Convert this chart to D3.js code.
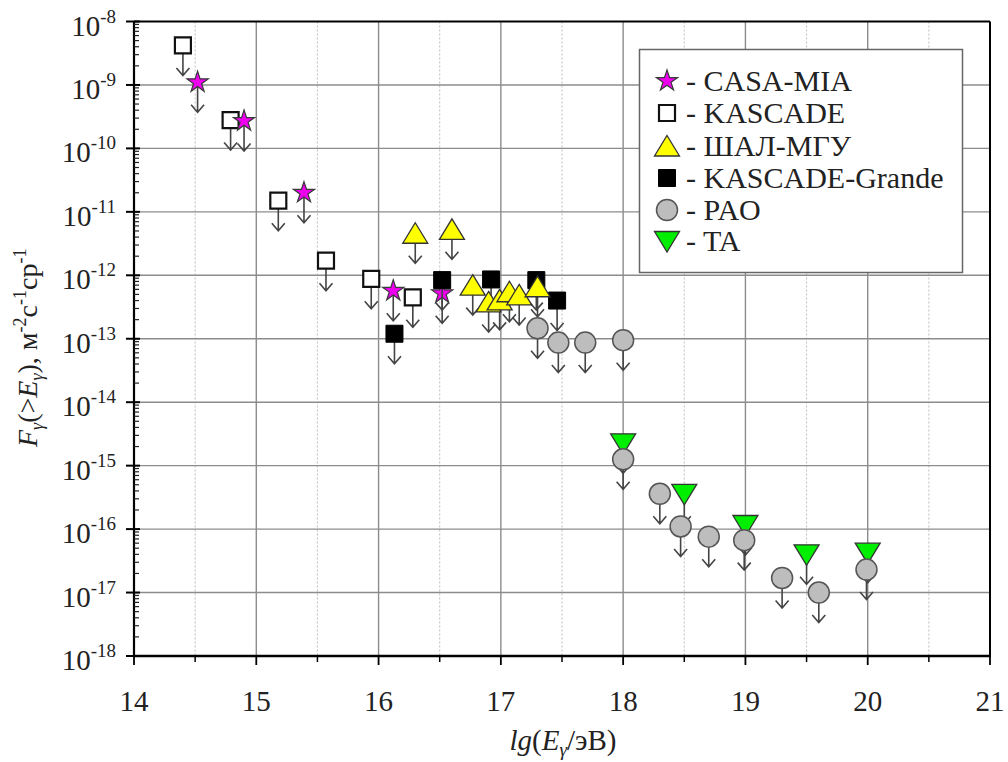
<!DOCTYPE html>
<html>
<head>
<meta charset="utf-8">
<script src="https://cdn.jsdelivr.net/npm/d3@7"></script>
<style>
  html, body { margin: 0; padding: 0; background: #fff; }
  svg { display: block; }
  text { font-family: "Liberation Serif", "DejaVu Serif", serif; }
</style>
</head>
<body>
<svg id="chart" width="1008" height="762"></svg>
<script>
// Upper limits on the integral gamma-ray flux, per experiment
const casaMiaX = [14.52, 14.90, 15.39, 16.12, 16.52];
const casaMiaY = [1.1e-9, 2.7e-10, 2.0e-11, 5.7e-13, 5.2e-13];

const kascadeX = [14.40, 14.79, 15.18, 15.57, 15.94, 16.28];
const kascadeY = [4.2e-9, 2.8e-10, 1.5e-11, 1.7e-12, 8.8e-13, 4.5e-13];

const shalX = [16.30, 16.60, 16.77, 16.90, 16.99, 17.07, 17.15, 17.30];
const shalY = [4.6e-12, 5.3e-12, 7.0e-13, 3.8e-13, 4.1e-13, 5.5e-13, 4.9e-13, 6.6e-13];

const grandeX = [16.13, 16.52, 16.92, 17.29, 17.46];
const grandeY = [1.2e-13, 8.4e-13, 8.6e-13, 8.4e-13, 4.0e-13];

const taX = [18.0, 18.5, 19.0, 19.5, 20.0];
const taY = [2.25e-15, 3.6e-16, 1.16e-16, 4.0e-17, 4.25e-17];

const paoX = [17.30, 17.47, 17.69, 18.0, 18.0, 18.30, 18.47, 18.70, 18.99, 19.30, 19.60, 19.99];
const paoY = [1.46e-13, 8.7e-14, 8.7e-14, 9.5e-14, 1.26e-15, 3.6e-16, 1.1e-16, 7.6e-17, 6.7e-17, 1.7e-17, 1.0e-17, 2.3e-17];

const xTicks = [14, 15, 16, 17, 18, 19, 20, 21];
const xHalfTicks = [14.5, 15.5, 16.5, 17.5, 18.5, 19.5, 20.5];
const yExponents = [-8, -9, -10, -11, -12, -13, -14, -15, -16, -17, -18];

const legendNames = ["CASA-MIA", "KASCADE", "ШАЛ-МГУ", "KASCADE-Grande", "PAO", "TA"];

const FONT = "'Liberation Serif', 'DejaVu Serif', serif";
const svg = d3.select("#chart").attr("font-family", FONT);
const x = d3.scaleLinear().domain([14, 21]).range([134, 990]);
const y = d3.scaleLog().domain([1e-18, 1e-8]).range([656, 21.5]);
const [x0, x1] = x.range();
const [yb, yt] = y.range();

// marker shapes, centred on their bounding box
const shapes = {
  star: d3.symbol(d3.symbolStar, 140)(),
  openSquare: "M-8,-8H8V8H-8Z",
  square: "M-8.5,-8.5H8.5V8.5H-8.5Z",
  triUp: "M0,-10.5L12.5,10L-12.5,10Z",
  triDown: "M-12.5,-9.5L12.5,-9.5L0,11Z",
  circle: d3.symbol(d3.symbolCircle, Math.PI * 10.5 * 10.5)()
};
const styles = {
  star: { fill: "#ee00ee", stroke: "#3a3a3a", sw: 1.2 },
  openSquare: { fill: "#ffffff", stroke: "#111", sw: 2.2 },
  square: { fill: "#000000", stroke: "#000", sw: 1 },
  triUp: { fill: "#ffff00", stroke: "#333", sw: 1.3 },
  triDown: { fill: "#00ee00", stroke: "#333", sw: 1.3 },
  circle: { fill: "#bdbdbd", stroke: "#555", sw: 1.5 }
};

// grid
const grid = svg.append("g");
grid.selectAll("line.vh").data(xHalfTicks).join("line")
  .attr("x1", d => x(d)).attr("x2", d => x(d)).attr("y1", yt).attr("y2", yb)
  .attr("stroke", "#bdbdbd").attr("stroke-width", 1).attr("stroke-dasharray", "2,2");
grid.selectAll("line.vm").data(xTicks.slice(1, -1)).join("line")
  .attr("x1", d => x(d)).attr("x2", d => x(d)).attr("y1", yt).attr("y2", yb)
  .attr("stroke", "#8c8c8c").attr("stroke-width", 1.4);
grid.selectAll("line.hm").data(yExponents.slice(1, -1)).join("line")
  .attr("x1", x0).attr("x2", x1).attr("y1", d => y(Math.pow(10, d))).attr("y2", d => y(Math.pow(10, d)))
  .attr("stroke", "#8c8c8c").attr("stroke-width", 1.4);

// frame
svg.append("line").attr("x1", x0).attr("x2", x1).attr("y1", yt).attr("y2", yt).attr("stroke", "#000").attr("stroke-width", 2);
svg.append("line").attr("x1", x1).attr("x2", x1).attr("y1", yt).attr("y2", yb).attr("stroke", "#000").attr("stroke-width", 2);

// left axis with log minor ticks
const yAxis = svg.append("g");
yAxis.append("line").attr("x1", x0).attr("x2", x0).attr("y1", yt).attr("y2", yb).attr("stroke", "#000").attr("stroke-width", 2.2);
const minorY = [];
yExponents.slice(1).forEach(e => { for (let k = 2; k <= 9; k++) minorY.push(k * Math.pow(10, e)); });
yAxis.selectAll("line.mn").data(minorY).join("line")
  .attr("x1", x0).attr("x2", x0 + 5).attr("y1", d => y(d)).attr("y2", d => y(d))
  .attr("stroke", "#222").attr("stroke-width", 1.2);
yAxis.selectAll("line.mj").data(yExponents).join("line")
  .attr("x1", x0 - 8).attr("x2", x0 + 6).attr("y1", d => y(Math.pow(10, d))).attr("y2", d => y(Math.pow(10, d)))
  .attr("stroke", "#000").attr("stroke-width", 2);
const yl = yAxis.selectAll("text").data(yExponents).join("text")
  .attr("x", 116).attr("y", d => y(Math.pow(10, d)) + 14)
  .attr("font-family", FONT)
  .attr("text-anchor", "end").attr("font-size", 29).attr("fill", "#222");
yl.append("tspan").text("10");
yl.append("tspan").attr("font-size", 19).attr("dy", -13).text(d => String(d));

// bottom axis
const xAxis = svg.append("g");
xAxis.append("line").attr("x1", x0 - 1).attr("x2", x1 + 1).attr("y1", yb).attr("y2", yb).attr("stroke", "#000").attr("stroke-width", 2.5);
xAxis.selectAll("line.tj").data(xTicks).join("line")
  .attr("x1", d => x(d)).attr("x2", d => x(d)).attr("y1", yb).attr("y2", yb + 9)
  .attr("stroke", "#000").attr("stroke-width", 1.8);
xAxis.selectAll("line.tn").data(xHalfTicks).join("line")
  .attr("x1", d => x(d)).attr("x2", d => x(d)).attr("y1", yb).attr("y2", yb + 6)
  .attr("stroke", "#000").attr("stroke-width", 1.5);
xAxis.selectAll("text").data(xTicks).join("text")
  .attr("x", d => x(d)).attr("y", 711).attr("text-anchor", "middle")
  .attr("font-family", FONT)
  .attr("font-size", 29).attr("fill", "#222").text(d => d);

// axis titles
const xt = svg.append("text").attr("x", 563).attr("y", 750).attr("text-anchor", "middle")
  .attr("font-family", FONT).attr("font-size", 29).attr("fill", "#222");
xt.append("tspan").attr("font-style", "italic").text("lg");
xt.append("tspan").text("(");
xt.append("tspan").attr("font-style", "italic").text("E");
xt.append("tspan").attr("font-style", "italic").attr("font-size", 19).attr("dy", 6).text("γ");
xt.append("tspan").attr("dy", -6).text("/эВ)");

const yt2 = svg.append("text").attr("transform", "translate(37,447) rotate(-90)")
  .attr("font-family", FONT).attr("font-size", 28).attr("fill", "#222");
yt2.append("tspan").attr("font-style", "italic").text("F");
yt2.append("tspan").attr("font-style", "italic").attr("font-size", 18).attr("dy", 6).text("γ");
yt2.append("tspan").attr("dy", -6).text("(>");
yt2.append("tspan").attr("font-style", "italic").text("E");
yt2.append("tspan").attr("font-style", "italic").attr("font-size", 18).attr("dy", 6).text("γ");
yt2.append("tspan").attr("dy", -6).text("), м");
yt2.append("tspan").attr("font-size", 18).attr("dy", -11).text("-2");
yt2.append("tspan").attr("dy", 11).text("с");
yt2.append("tspan").attr("font-size", 18).attr("dy", -11).text("-1");
yt2.append("tspan").attr("dy", 11).text("ср");
yt2.append("tspan").attr("font-size", 18).attr("dy", -11).text("-1");

// data: each point is an upper limit, drawn as a marker with a downward arrow
const arrow = "M0,0V30M-6.5,22.5L0,30L6.5,22.5";
function drawSeries(xs, ys, shape) {
  const pts = xs.map((v, i) => [v, ys[i]]);
  const g = svg.append("g");
  g.selectAll("path.arrow").data(pts).join("path")
    .attr("transform", d => `translate(${x(d[0])},${y(d[1])})`)
    .attr("d", arrow).attr("fill", "none").attr("stroke", "#444").attr("stroke-width", 1.6);
  const st = styles[shape];
  g.selectAll("path.mark").data(pts).join("path")
    .attr("transform", d => `translate(${x(d[0])},${y(d[1])})`)
    .attr("d", shapes[shape]).attr("fill", st.fill).attr("stroke", st.stroke).attr("stroke-width", st.sw);
}
drawSeries(kascadeX, kascadeY, "openSquare");
drawSeries(casaMiaX, casaMiaY, "star");
drawSeries(grandeX, grandeY, "square");
drawSeries(shalX, shalY, "triUp");
drawSeries(taX, taY, "triDown");
drawSeries(paoX, paoY, "circle");

// legend
const legendShapes = ["star", "openSquare", "triUp", "square", "circle", "triDown"];
const legendRows = [81, 113, 146, 178, 210, 241];
const lg = svg.append("g");
lg.append("rect").attr("x", 639.5).attr("y", 49.5).attr("width", 323).attr("height", 223)
  .attr("fill", "#fff").attr("stroke", "#666").attr("stroke-width", 1.5);
legendNames.forEach((name, i) => {
  const st = styles[legendShapes[i]];
  lg.append("path").attr("transform", `translate(667,${legendRows[i]})`)
    .attr("d", shapes[legendShapes[i]]).attr("fill", st.fill).attr("stroke", st.stroke).attr("stroke-width", st.sw);
  lg.append("text").attr("x", 686).attr("y", legendRows[i] + 10)
    .attr("font-family", FONT).attr("font-size", 30).attr("fill", "#222")
    .text("- " + name);
});
</script>
</body>
</html>
